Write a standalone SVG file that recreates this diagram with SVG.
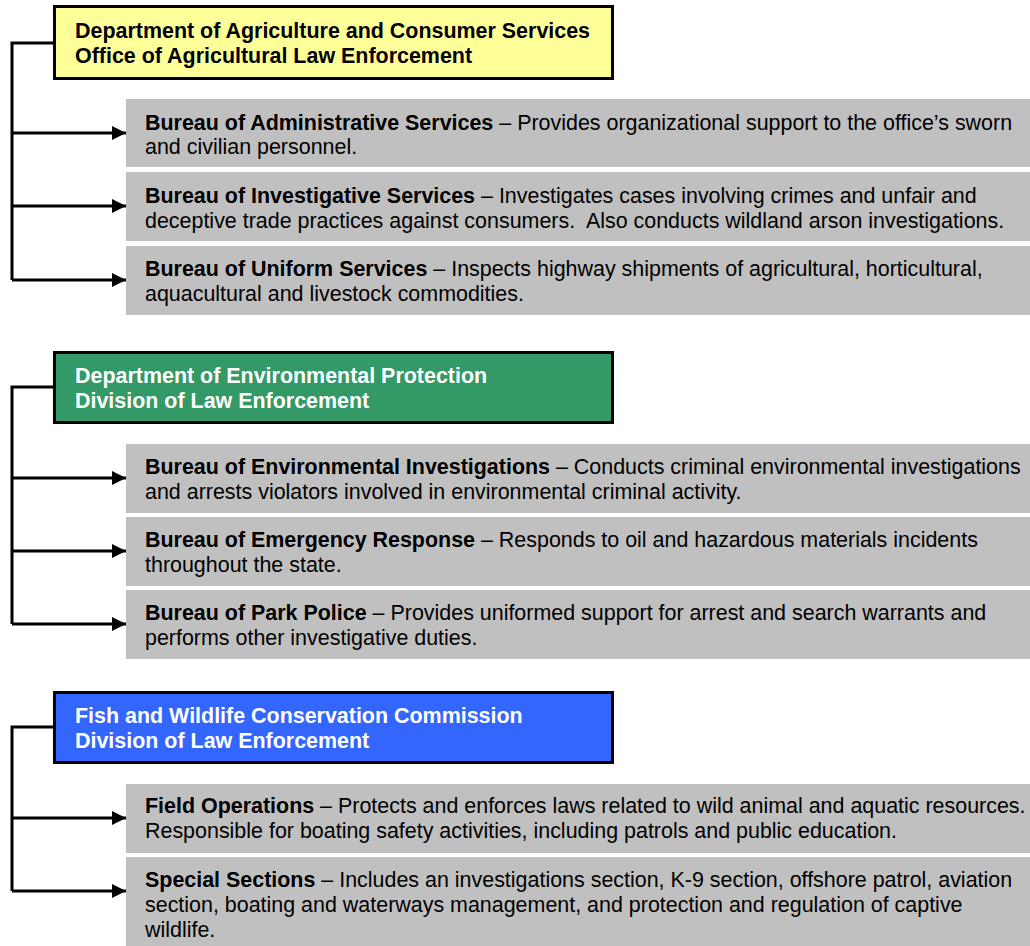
<svg xmlns="http://www.w3.org/2000/svg" width="1030" height="946" viewBox="0 0 1030 946">
  <style>
    text { font-family: "Liberation Sans", Arial, sans-serif; font-size: 21.45px; fill: #000; white-space: pre; }
    .b { font-weight: bold; }
    .hd { font-weight: bold; }
    .hd.w { fill: #fff; }
    .box { fill: #c0c0c0; }
    .head { stroke: #000; stroke-width: 3; }
    .wire { fill: none; stroke: #000; stroke-width: 3; }
  </style>
  <defs>
    <marker id="arr" markerUnits="userSpaceOnUse" markerWidth="16" markerHeight="16" refX="14" refY="7" orient="auto">
      <path d="M0,0 L14,7 L0,14 Z" fill="#000"/>
    </marker>
  </defs>
  <rect width="1030" height="946" fill="#fff"/>

  <!-- connectors -->
  <g id="connectors">
    <path class="wire" d="M53,43 H12 V280"/>
    <path class="wire" d="M12,133 H126" marker-end="url(#arr)"/>
    <path class="wire" d="M12,206 H126" marker-end="url(#arr)"/>
    <path class="wire" d="M12,280 H126" marker-end="url(#arr)"/>
    <path class="wire" d="M53,387 H12 V624"/>
    <path class="wire" d="M12,478 H126" marker-end="url(#arr)"/>
    <path class="wire" d="M12,551 H126" marker-end="url(#arr)"/>
    <path class="wire" d="M12,624 H126" marker-end="url(#arr)"/>
    <path class="wire" d="M53,727 H12 V891"/>
    <path class="wire" d="M12,818 H126" marker-end="url(#arr)"/>
    <path class="wire" d="M12,891 H126" marker-end="url(#arr)"/>
  </g>

  <!-- Agriculture -->
  <g id="agri-head">
    <rect class="head" x="54.5" y="6.5" width="558" height="72" fill="#ffff99"/>
    <text class="hd" x="75" y="38">Department of Agriculture and Consumer Services</text>
    <text class="hd" x="75" y="63">Office of Agricultural Law Enforcement</text>
  </g>
  <g id="agri-admin">
    <rect class="box" x="126" y="99" width="904" height="68"/>
    <text x="145" y="130"><tspan class="b">Bureau of Administrative Services</tspan> – Provides organizational support to the office’s sworn</text>
    <text x="145" y="154">and civilian personnel.</text>
  </g>
  <g id="agri-invest">
    <rect class="box" x="126" y="172" width="904" height="69"/>
    <text x="145" y="203"><tspan class="b">Bureau of Investigative Services</tspan> – Investigates cases involving crimes and unfair and</text>
    <text x="145" y="228">deceptive trade practices against consumers.  Also conducts wildland arson investigations.</text>
  </g>
  <g id="agri-uniform">
    <rect class="box" x="126" y="246" width="904" height="69"/>
    <text x="145" y="276"><tspan class="b">Bureau of Uniform Services</tspan> – Inspects highway shipments of agricultural, horticultural,</text>
    <text x="145" y="301">aquacultural and livestock commodities.</text>
  </g>

  <!-- Environmental Protection -->
  <g id="env-head">
    <rect class="head" x="54.5" y="352.5" width="558" height="70" fill="#339966"/>
    <text class="hd w" x="75" y="383">Department of Environmental Protection</text>
    <text class="hd w" x="75" y="408">Division of Law Enforcement</text>
  </g>
  <g id="env-invest">
    <rect class="box" x="126" y="444" width="904" height="69"/>
    <text x="145" y="474"><tspan class="b">Bureau of Environmental Investigations</tspan> – Conducts criminal environmental investigations</text>
    <text x="145" y="499">and arrests violators involved in environmental criminal activity.</text>
  </g>
  <g id="env-emergency">
    <rect class="box" x="126" y="517" width="904" height="69"/>
    <text x="145" y="547"><tspan class="b">Bureau of Emergency Response</tspan> – Responds to oil and hazardous materials incidents</text>
    <text x="145" y="572">throughout the state.</text>
  </g>
  <g id="env-park">
    <rect class="box" x="126" y="590" width="904" height="69"/>
    <text x="145" y="620"><tspan class="b">Bureau of Park Police</tspan> – Provides uniformed support for arrest and search warrants and</text>
    <text x="145" y="645">performs other investigative duties.</text>
  </g>

  <!-- Fish and Wildlife -->
  <g id="fwc-head">
    <rect class="head" x="54.5" y="692.5" width="558" height="70" fill="#3366ff"/>
    <text class="hd w" x="75" y="723">Fish and Wildlife Conservation Commission</text>
    <text class="hd w" x="75" y="748">Division of Law Enforcement</text>
  </g>
  <g id="fwc-field">
    <rect class="box" x="126" y="784" width="904" height="69"/>
    <text x="145" y="813"><tspan class="b">Field Operations</tspan> – Protects and enforces laws related to wild animal and aquatic resources.</text>
    <text x="145" y="838">Responsible for boating safety activities, including patrols and public education.</text>
  </g>
  <g id="fwc-special">
    <rect class="box" x="126" y="857" width="904" height="89"/>
    <text x="145" y="887"><tspan class="b">Special Sections</tspan> – Includes an investigations section, K-9 section, offshore patrol, aviation</text>
    <text x="145" y="912">section, boating and waterways management, and protection and regulation of captive</text>
    <text x="145" y="937">wildlife.</text>
  </g>
</svg>
